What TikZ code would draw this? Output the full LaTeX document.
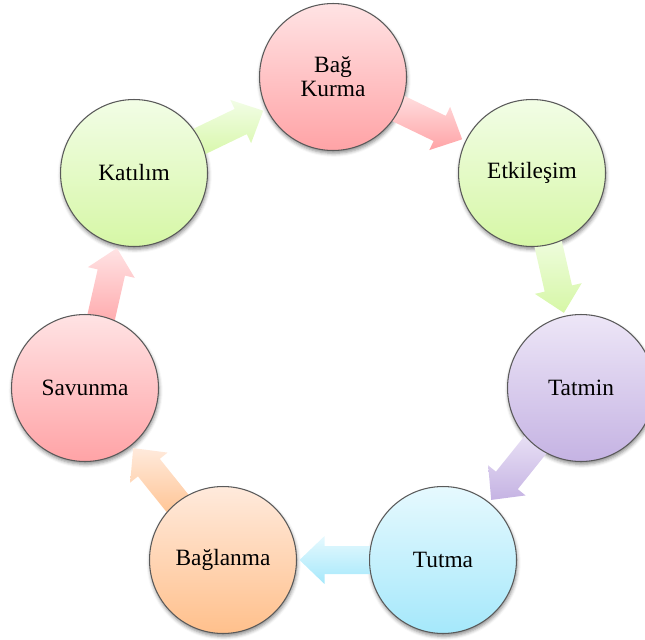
\documentclass[tikz,border=0pt]{standalone}
\usepackage{fontspec}
\setmainfont{Liberation Serif}
\usetikzlibrary{calc,shadows.blur}

\pgfdeclarelayer{shade}
\pgfdeclarelayer{back}
\pgfsetlayers{shade,back,main}

% fill colours (top / bottom of each gradient)
\definecolor{pinkT}{HTML}{FFE3E4}\definecolor{pinkB}{HTML}{FFA3A6}
\definecolor{greenT}{HTML}{F2FDE6}\definecolor{greenB}{HTML}{D6F7A6}
\definecolor{lilacT}{HTML}{EDE6F7}\definecolor{lilacB}{HTML}{C5B3E3}
\definecolor{cyanT}{HTML}{E6F9FE}\definecolor{cyanB}{HTML}{A5E8FB}
\definecolor{peachT}{HTML}{FFEADC}\definecolor{peachB}{HTML}{FFC08C}
\definecolor{ringline}{HTML}{5A5A5A}

\tikzset{
  stage/.style={circle, minimum size=2.94cm, inner sep=0pt, draw=ringline,
    line width=0.6pt, align=center,
    font=\fontsize{13.3}{13.6}\selectfont},
  stageshadow/.style={blur shadow={shadow xshift=0.4pt, shadow yshift=-1.6pt,
      shadow blur radius=2pt, shadow opacity=45}},
  arrowfill/.style={draw=none},
}

% block arrow from node #1 towards node #2, gradient #3 (top) to #4 (bottom)
\newcommand\flowarrow[4]{%
  \coordinate (fa-s) at ($(#1.center)!1.2cm!(#2.center)$);
  \coordinate (fa-h) at ($(#1.center)!2.37cm!(#2.center)$);
  \coordinate (fa-t) at ($(#1.center)!2.87cm!(#2.center)$);
  \path[arrowfill, top color=#3, bottom color=#4]
    ($(fa-s)!0.28cm!90:(#2.center)$) -- ($(fa-h)!0.28cm!90:(#2.center)$)
    -- ($(fa-h)!0.48cm!90:(#2.center)$) -- (fa-t)
    -- ($(fa-h)!0.48cm!-90:(#2.center)$) -- ($(fa-h)!0.28cm!-90:(#2.center)$)
    -- ($(fa-s)!0.28cm!-90:(#2.center)$) -- cycle;
}

\begin{document}
\begin{tikzpicture}[x=0.02cm, y=-0.02cm]
  \useasboundingbox (0,0) rectangle (645,639);

  % stages of the cycle
  \node[stage, top color=pinkT,  bottom color=pinkB]  (bag)  at (333,77)  {Bağ\\Kurma};
  \node[stage, top color=greenT, bottom color=greenB] (etk)  at (532,173) {Etkileşim};
  \node[stage, top color=lilacT, bottom color=lilacB] (tat)  at (581,388) {Tatmin};
  \node[stage, top color=cyanT,  bottom color=cyanB]  (tut)  at (443,560) {Tutma};
  \node[stage, top color=peachT, bottom color=peachB] (bgl)  at (223,560) {Bağlanma};
  \node[stage, top color=pinkT,  bottom color=pinkB]  (sav)  at (85,388)  {Savunma};
  \node[stage, top color=greenT, bottom color=greenB] (kat)  at (134,173) {Katılım};

  % soft shadows under the circles
  \begin{pgfonlayer}{shade}
    \foreach \s in {bag,etk,tat,tut,bgl,sav,kat}
      \path[stageshadow] (\s.center) circle[radius=1.47cm];
  \end{pgfonlayer}

  % arrows between consecutive stages, behind the circles
  \begin{pgfonlayer}{back}
    \flowarrow{kat}{bag}{greenT}{greenB}
    \flowarrow{bag}{etk}{pinkT}{pinkB}
    \flowarrow{etk}{tat}{greenT}{greenB}
    \flowarrow{tat}{tut}{lilacT}{lilacB}
    \flowarrow{tut}{bgl}{cyanT}{cyanB}
    \flowarrow{bgl}{sav}{peachT}{peachB}
    \flowarrow{sav}{kat}{pinkT}{pinkB}
  \end{pgfonlayer}
\end{tikzpicture}
\end{document}
